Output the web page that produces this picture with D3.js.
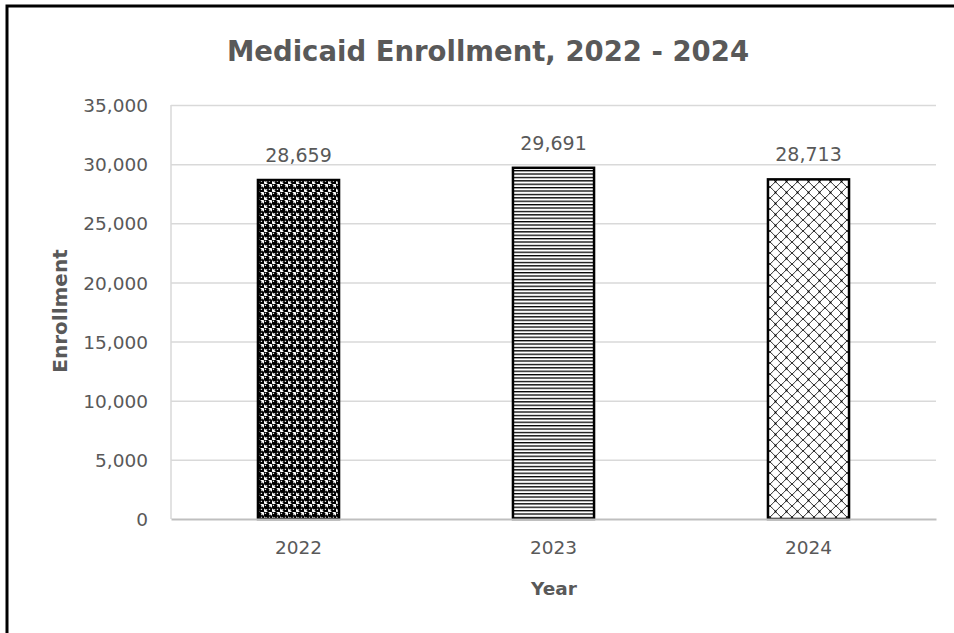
<!DOCTYPE html>
<html>
<head>
<meta charset="utf-8">
<script src="https://cdn.jsdelivr.net/npm/d3@7"></script>
<style>
  html, body { margin: 0; padding: 0; background: #fff; }
  svg { display: block; }
</style>
</head>
<body>
<svg id="chart" width="954" height="633"></svg>
<script>
// Enrollment data
const years = ["2022", "2023", "2024"];
const enrollment = [28659, 29691, 28713];
const yTicks = [0, 5000, 10000, 15000, 20000, 25000, 30000, 35000];
const fillIds = ["pat-spheres", "pat-hlines", "pat-lattice"];

const svg = d3.select("#chart");
const font = "'DejaVu Sans', sans-serif";
const grey = "#595959";

// Patterned fills for the three bars
const defs = svg.append("defs");

const sph = defs.append("pattern").attr("id", "pat-spheres")
  .attr("patternUnits", "userSpaceOnUse").attr("width", 8).attr("height", 8);
sph.append("rect").attr("width", 8).attr("height", 8).attr("fill", "#fff");
[[2.2, 2.2], [6.2, 6.2], [10.2, -1.8], [-1.8, 10.2], [10.2, 6.2], [-1.8, 6.2], [6.2, -1.8], [2.2, 10.2]]
  .forEach(([cx, cy], k) => {
    if (k < 4) sph.append("circle").attr("cx", cx).attr("cy", cy).attr("r", 3.1).attr("fill", "#000");
  });
sph.append("path").attr("d", "M4,0 L8,4 M0,4 L4,8").attr("stroke", "#777").attr("stroke-width", 0.6);
sph.append("rect").attr("x", 0.8).attr("y", 0.8).attr("width", 1.3).attr("height", 1.1).attr("fill", "#fff");
sph.append("rect").attr("x", 4.8).attr("y", 4.8).attr("width", 1.3).attr("height", 1.1).attr("fill", "#fff");

const hl = defs.append("pattern").attr("id", "pat-hlines")
  .attr("patternUnits", "userSpaceOnUse").attr("width", 8).attr("height", 3.4);
hl.append("rect").attr("width", 8).attr("height", 3.4).attr("fill", "#fff");
hl.append("rect").attr("y", 0).attr("width", 8).attr("height", 1.3).attr("fill", "#000");

const lat = defs.append("pattern").attr("id", "pat-lattice")
  .attr("patternUnits", "userSpaceOnUse").attr("width", 11).attr("height", 11);
lat.append("rect").attr("width", 11).attr("height", 11).attr("fill", "#fff");
lat.append("path").attr("d", "M0,0 Q3,2.5 5.5,5.5 Q8,8.5 11,11 M11,0 Q8,2.5 5.5,5.5 Q3,8.5 0,11")
  .attr("stroke", "#111").attr("stroke-width", 0.9).attr("fill", "none");
lat.append("circle").attr("cx", 5.5).attr("cy", 5.5).attr("r", 1).attr("fill", "#000");

// Chart frame
svg.append("rect").attr("x", 7).attr("y", 6).attr("width", 970).attr("height", 660)
  .attr("fill", "none").attr("stroke", "#000").attr("stroke-width", 3);

// Scales
const x = d3.scaleBand().domain(years).range([171, 936])
  .paddingInner(0.682).paddingOuter(0.341);
const y = d3.scaleLinear().domain([0, 35000]).range([519, 105]);

// Gridlines and y-axis labels
const yAxis = d3.axisLeft(y).tickValues(yTicks).tickFormat(d3.format(","))
  .tickSize(-(936 - 171)).tickPadding(23);
const yg = svg.append("g").attr("transform", "translate(171,0)").call(yAxis);
yg.select(".domain").remove();
yg.selectAll(".tick line").attr("stroke", "#d9d9d9").attr("stroke-width", 1.5);
yg.selectAll(".tick text").attr("fill", grey).attr("font-family", font)
  .attr("font-size", 18.5).attr("dy", "0.36em");
yg.selectAll(".tick").filter(d => d === 0).select("line").remove();

// Left axis line
svg.append("line").attr("x1", 171).attr("x2", 171).attr("y1", 105).attr("y2", 519)
  .attr("stroke", "#d9d9d9").attr("stroke-width", 1.5);

// Bars
svg.append("g").selectAll("rect").data(years).join("rect")
  .attr("x", d => x(d))
  .attr("y", (d, i) => y(enrollment[i]))
  .attr("width", x.bandwidth())
  .attr("height", (d, i) => y(0) - y(enrollment[i]))
  .attr("fill", (d, i) => `url(#${fillIds[i]})`)
  .attr("stroke", "#000").attr("stroke-width", 2.5);

// Category axis
const xAxis = d3.axisBottom(x).tickSize(0).tickPadding(22);
const xg = svg.append("g").attr("transform", "translate(0,519)").call(xAxis);
xg.select(".domain").attr("stroke", "#bfbfbf").attr("stroke-width", 2);
xg.selectAll(".tick text").attr("fill", grey).attr("font-family", font)
  .attr("font-size", 18.5);

// Value labels
svg.append("g").selectAll("text").data(years).join("text")
  .attr("x", d => x(d) + x.bandwidth() / 2)
  .attr("y", (d, i) => y(enrollment[i]) - 18)
  .attr("text-anchor", "middle")
  .attr("fill", grey).attr("font-family", font).attr("font-size", 19)
  .text((d, i) => d3.format(",")(enrollment[i]));

// Titles
svg.append("text").attr("x", 488).attr("y", 61).attr("text-anchor", "middle")
  .attr("fill", grey).attr("font-family", font).attr("font-weight", "bold")
  .attr("font-size", 27.5).text("Medicaid Enrollment, 2022 - 2024");

svg.append("text").attr("x", 554).attr("y", 595).attr("text-anchor", "middle")
  .attr("fill", grey).attr("font-family", font).attr("font-weight", "bold")
  .attr("font-size", 18.5).text("Year");

svg.append("text").attr("transform", "translate(67,311) rotate(-90)")
  .attr("text-anchor", "middle")
  .attr("fill", grey).attr("font-family", font).attr("font-weight", "bold")
  .attr("font-size", 20).text("Enrollment");
</script>
</body>
</html>
